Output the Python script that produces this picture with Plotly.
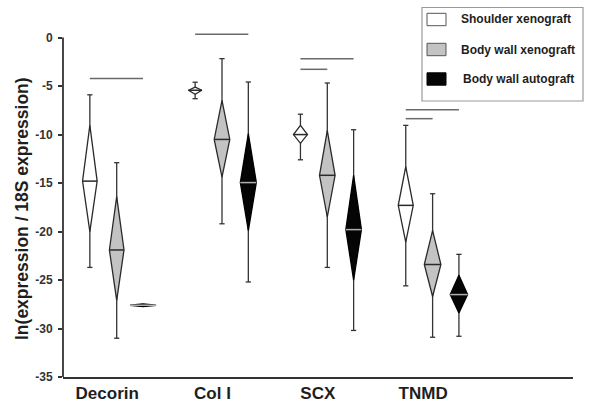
import plotly.graph_objects as go

# ---------------- data ----------------
groups = ["Decorin", "Col I", "SCX", "TNMD"]
series = ["Shoulder xenograft", "Body wall xenograft", "Body wall autograft"]

shoulder_whisker_hi = [-5.9, -4.6, -7.9, -9.05]
shoulder_diamond_hi = [-9.05, -5.1, -9.05, -13.3]
shoulder_median = [-14.8, -5.43, -10.0, -17.3]
shoulder_diamond_lo = [-20.0, -5.85, -10.9, -21.1]
shoulder_whisker_lo = [-23.7, -6.3, -12.6, -25.6]

bodyxeno_whisker_hi = [-12.9, -2.17, -4.68, -16.1]
bodyxeno_diamond_hi = [-16.4, -6.47, -9.6, -19.9]
bodyxeno_median = [-21.9, -10.5, -14.2, -23.4]
bodyxeno_diamond_lo = [-27.1, -14.4, -18.5, -26.7]
bodyxeno_whisker_lo = [-31.0, -19.2, -23.7, -30.9]

bodyauto_whisker_hi = [-27.6, -4.58, -9.5, -22.35]
bodyauto_diamond_hi = [-27.45, -9.9, -14.2, -24.5]
bodyauto_median = [-27.6, -14.95, -19.8, -26.5]
bodyauto_diamond_lo = [-27.75, -19.9, -25.0, -28.4]
bodyauto_whisker_lo = [-27.6, -25.2, -30.2, -30.8]

# significance bars: (group index, y value, from series, to series)
sig_group = [0, 1, 2, 2, 3, 3]
sig_y = [-4.23, 0.34, -2.17, -3.27, -7.43, -8.36]
sig_from = [0, 0, 0, 0, 0, 0]
sig_to = [2, 2, 2, 1, 2, 1]

y_tick_vals = [0, -5, -10, -15, -20, -25, -30, -35]

# ---------------- layout geometry / styles ----------------
W, H = 600, 406
L, R, T, B = 63, 27, 28, 29
plot_w = W - L - R
plot_h = H - T - B
PX_PER_X = 105.3
PX_PER_Y = 9.697
x0 = 1 - (116.7 - L) / PX_PER_X
x1 = x0 + plot_w / PX_PER_X
y0 = -35
y1 = y0 + plot_h / PX_PER_Y

offsets = [-0.255, 0.0, 0.25]
halfw_px = [[7.3, 6.7, 7.0, 7.5], [7.3, 7.8, 7.8, 8.3], [13.0, 8.0, 7.8, 8.7]]
fills = ["#ffffff", "#c3c3c3", "#050505"]
outline = ["#2a2a2a", "#2a2a2a", "#000000"]
median_col = ["#2a2a2a", "#2a2a2a", "#b0b0b0"]
LINE = "#333333"
CAP = 2.6 / PX_PER_X
FONT = "Arial, Liberation Sans, sans-serif"

stats = [
    (shoulder_whisker_hi, shoulder_diamond_hi, shoulder_median, shoulder_diamond_lo, shoulder_whisker_lo),
    (bodyxeno_whisker_hi, bodyxeno_diamond_hi, bodyxeno_median, bodyxeno_diamond_lo, bodyxeno_whisker_lo),
    (bodyauto_whisker_hi, bodyauto_diamond_hi, bodyauto_median, bodyauto_diamond_lo, bodyauto_whisker_lo),
]

fig = go.Figure()

for s, (wh, dh, md, dl, wl) in enumerate(stats):
    wx, wy, dx, dy, mx, my = [], [], [], [], [], []
    for g in range(len(groups)):
        cx = g + 1 + offsets[s]
        hw = halfw_px[s][g] / PX_PER_X
        if wh[g] != wl[g]:
            wx += [cx, cx, None, cx - CAP, cx + CAP, None, cx - CAP, cx + CAP, None]
            wy += [wl[g], wh[g], None, wh[g], wh[g], None, wl[g], wl[g], None]
        dx += [cx, cx + hw, cx, cx - hw, cx, None]
        dy += [dh[g], md[g], dl[g], md[g], dh[g], None]
        mx += [cx - hw, cx + hw, None]
        my += [md[g], md[g], None]
    fig.add_trace(go.Scatter(x=wx, y=wy, mode="lines", line=dict(color=LINE, width=1.3),
                             hoverinfo="skip", showlegend=False))
    fig.add_trace(go.Scatter(x=dx, y=dy, mode="lines", fill="toself", fillcolor=fills[s],
                             line=dict(color=outline[s], width=1.3), name=series[s],
                             showlegend=False))
    fig.add_trace(go.Scatter(x=mx, y=my, mode="lines", line=dict(color=median_col[s], width=1.5),
                             hoverinfo="skip", showlegend=False))

# significance bars
sx, sy = [], []
for g, yv, a, b in zip(sig_group, sig_y, sig_from, sig_to):
    sx += [g + 1 + offsets[a], g + 1 + offsets[b], None]
    sy += [yv, yv, None]
fig.add_trace(go.Scatter(x=sx, y=sy, mode="lines", line=dict(color="#6a6a6a", width=1.5),
                         hoverinfo="skip", showlegend=False))


def xp(px):
    return (px - L) / plot_w


def yp(py):
    return (H - B - py) / plot_h


shapes = []
# y axis line (0 to -35 only), drawn in paper coords so it is not clipped
shapes.append(dict(type="line", xref="paper", yref="paper", x0=0, x1=0,
                   y0=0, y1=(0 - y0) / (y1 - y0),
                   line=dict(color=LINE, width=1.8)))
# legend box
shapes.append(dict(type="rect", xref="paper", yref="paper", x0=xp(422), x1=xp(583),
                   y0=yp(101), y1=yp(7.5), line=dict(color="#9a9a9a", width=1.2),
                   fillcolor="rgba(255,255,255,0)"))
leg_cy = [19.5, 49.5, 79]
leg_tx = [458.5, 459, 460.7]
annotations = []
for i in range(3):
    shapes.append(dict(type="rect", xref="paper", yref="paper", x0=xp(427), x1=xp(446),
                       y0=yp(leg_cy[i] + 6.2), y1=yp(leg_cy[i] - 6.2),
                       line=dict(color="#555555" if i < 2 else "#000000", width=1),
                       fillcolor=fills[i]))
    annotations.append(dict(xref="paper", yref="paper", x=xp(leg_tx[i]), y=yp(leg_cy[i]),
                            text=series[i], showarrow=False, xanchor="left", yanchor="middle",
                            font=dict(family=FONT, size=12, color="#1e1e1e", weight="bold")))

annotations.append(dict(xref="paper", yref="paper", x=xp(22), y=yp(209),
                        text="ln(expression / 18S expression)", showarrow=False, textangle=-90,
                        xanchor="center", yanchor="middle",
                        font=dict(family=FONT, size=17.5, color="#1e1e1e", weight="bold")))

fig.update_layout(
    width=W, height=H,
    margin=dict(l=L, r=R, t=T, b=B, pad=0, autoexpand=False),
    paper_bgcolor="white", plot_bgcolor="white",
    showlegend=False,
    shapes=shapes,
    annotations=annotations,
    xaxis=dict(range=[x0, x1], showgrid=False, zeroline=False, showline=True,
               linecolor=LINE, linewidth=1.8, ticks="", automargin=False,
               tickvals=[g + 1 - 0.09 for g in range(len(groups))], ticktext=groups,
               tickfont=dict(family=FONT, size=17, color="#1e1e1e", weight="bold"),
               fixedrange=True),
    yaxis=dict(range=[y0, y1], showgrid=False, zeroline=False, showline=False,
               ticks="outside", ticklen=4, tickwidth=1.5, tickcolor=LINE, automargin=False,
               tickvals=y_tick_vals, ticktext=[str(v) for v in y_tick_vals],
               tickfont=dict(family=FONT, size=12, color="#333333", weight="bold"),
               ticklabelstandoff=3, fixedrange=True),
)

fig.write_html(
    "out.html",
    config={"displayModeBar": False},
    post_script="document.body.style.margin='0';document.body.style.overflow='hidden';",
)
